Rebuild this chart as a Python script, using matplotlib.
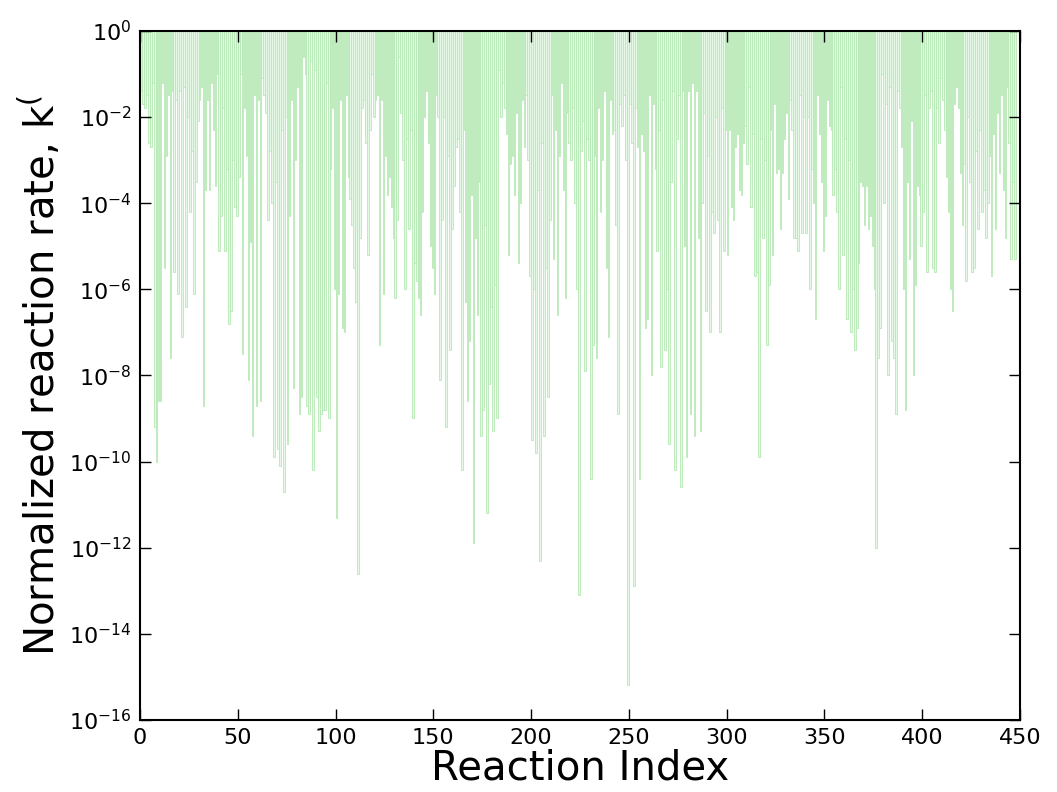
import matplotlib
matplotlib.use("Agg")
import matplotlib.pyplot as plt
import numpy as np
from matplotlib.ticker import FixedLocator, NullLocator, LogFormatterSciNotation

# log10 of the normalized reaction rate, one entry per reaction
log_k = [
    -1.4, -1.7, -1.8, -1.5, -2.6, -2.7, -1.2, -9.2, -10.0, -8.6,
    -8.6, -1.2, -5.5, -2.9, -1.5, -7.6, -1.4, -5.6, -1.6, -6.1,
    -1.4, -7.1, -1.3, -6.4, -2.0, -4.2, -2.8, -6.1, -3.5, -2.1,
    -1.6, -1.3, -8.7, -3.7, -1.6, -3.7, -1.2, -2.3, -3.6, -1.0,
    -5.1, -4.3, -1.8, -5.1, -3.2, -6.8, -6.5, -3.0, -4.1, -4.3,
    -3.4, -1.0, -7.5, -1.8, -2.9, -8.1, -4.9, -9.4, -1.5, -8.7,
    -1.6, -8.6, -1.1, -1.5, -1.9, -4.4, -2.8, -4.0, -9.9, -3.5,
    -9.7, -10.1, -2.3, -10.7, -2.0, -9.6, -4.3, -1.6, -8.3, -3.0,
    -1.3, -8.9, -8.5, -0.6, -1.0, -8.7, -8.9, -0.7, -10.2, -0.9,
    -8.5, -9.3, -8.9, -8.8, -8.8, -1.2, -9.0, -3.2, -1.8, -6.0,
    -11.3, -6.1, -1.6, -6.9, -7.0, -1.5, -3.4, -3.9, -4.5, -5.5,
    -6.3, -12.6, -4.8, -1.8, -1.6, -2.6, -5.2, -2.3, -1.0, -2.0,
    -1.6, -1.5, -7.3, -1.6, -6.1, -2.9, -3.8, -3.4, -4.1, -4.8,
    -6.2, -4.4, -0.6, -1.9, -3.0, -6.0, -2.5, -4.6, -2.3, -9.0,
    -5.4, -5.8, -6.2, -6.6, -4.2, -2.0, -1.4, -2.6, -5.0, -5.5,
    -6.1, -1.5, -2.0, -8.1, -4.4, -2.0, -9.2, -2.9, -7.4, -4.6,
    -3.6, -2.7, -2.5, -4.2, -10.2, -2.3, -6.3, -8.6, -7.2, -3.8,
    -11.9, -4.8, -6.6, -3.5, -9.4, -8.8, -4.5, -11.2, -8.2, -6.4,
    -9.3, -5.9, -9.0, -0.9, -2.0, -1.2, -1.8, -2.4, -5.2, -3.1,
    -2.9, -3.8, -1.9, -5.4, -4.0, -1.6, -2.7, -1.5, -3.0, -5.7,
    -9.5, -6.0, -9.8, -3.7, -12.3, -2.6, -9.4, -5.5, -8.5, -4.4,
    -1.5, -5.3, -2.3, -6.6, -2.9, -1.2, -3.7, -6.2, -1.9, -2.6,
    -3.0, -1.8, -4.0, -6.0, -13.1, -2.8, -2.1, -7.9, -2.5, -3.0,
    -10.4, -7.3, -2.9, -7.6, -1.8, -4.2, -3.0, -1.4, -5.5, -7.1,
    -1.6, -2.4, -2.3, -4.5, -8.9, -1.7, -2.2, -1.5, -3.0, -15.2,
    -1.7, -2.6, -12.9, -1.8, -2.7, -10.4, -2.4, -2.8, -6.9, -6.7,
    -1.5, -8.0, -1.7, -3.2, -5.1, -2.3, -7.8, -1.6, -7.4, -6.0,
    -9.6, -3.5, -1.4, -10.2, -2.5, -1.5, -10.6, -1.4, -5.0, -9.9,
    -1.4, -8.9, -1.2, -9.4, -1.4, -4.8, -9.3, -4.0, -1.9, -6.5,
    -2.9, -7.0, -4.2, -4.7, -2.0, -4.4, -7.0, -1.8, -5.1, -2.3,
    -5.2, -2.3, -4.1, -4.4, -2.7, -2.4, -3.7, -3.8, -2.6, -2.2,
    -3.1, -1.3, -4.1, -2.4, -5.7, -5.6, -9.9, -2.5, -4.8, -3.0,
    -7.3, -5.9, -2.3, -5.2, -1.7, -3.3, -3.2, -4.6, -3.3, -2.5,
    -1.9, -3.9, -1.6, -2.3, -4.8, -4.8, -5.1, -1.5, -4.7, -2.0,
    -4.7, -2.0, -6.0, -3.2, -4.0, -6.7, -1.5, -2.4, -3.5, -5.1,
    -4.3, -1.6, -2.2, -2.3, -3.8, -3.2, -4.2, -6.0, -1.3, -5.2,
    -2.5, -6.7, -3.0, -7.0, -6.0, -7.4, -6.9, -5.4, -3.5, -3.6,
    -4.5, -3.6, -4.6, -4.3, -5.0, -6.0, -12.0, -7.6, -6.9, -1.0,
    -4.0, -1.7, -8.0, -1.3, -7.2, -7.6, -8.9, -1.4, -1.8, -2.7,
    -6.0, -8.8, -3.5, -5.3, -2.1, -8.0, -5.9, -3.6, -3.8, -5.0,
    -4.2, -1.5, -5.6, -1.8, -1.4, -5.5, -5.6, -1.8, -2.6, -1.1,
    -1.6, -2.3, -3.4, -4.2, -6.0, -6.5, -1.7, -1.3, -1.8, -3.3,
    -4.5, -3.1, -5.8, -2.0, -3.5, -5.6, -5.5, -2.8, -4.6, -2.3,
    -4.2, -3.7, -4.8, -4.0, -2.9, -5.7, -2.4, -4.6, -1.9, -3.3,
    -1.5, -3.7, -4.8, -1.3, -2.6, -5.3, -3.5, -5.3,
]

x_ticks = [0, 50, 100, 150, 200, 250, 300, 350, 400, 450]
y_tick_exps = [0, -2, -4, -6, -8, -10, -12, -14, -16]

k = 10.0 ** np.array(log_k)
idx = np.arange(len(k))

fig = plt.figure(figsize=(10.57, 7.92), dpi=100)
ax = fig.add_axes([0.1325, 0.091, 0.8325, 0.870])

# bars hang from the top (k = 1) down to each rate
ax.bar(idx + 0.1, 1.0 - k, bottom=k, width=0.8, facecolor="#e6f8e6",
       edgecolor="#b6e9b6", linewidth=0.6, align="edge")

ax.set_yscale("log")
ax.set_ylim(1e-16, 1e0)
ax.set_xlim(0, 450)

ax.yaxis.set_major_locator(FixedLocator([10.0 ** e for e in y_tick_exps]))
ax.yaxis.set_minor_locator(NullLocator())
ax.yaxis.set_major_formatter(LogFormatterSciNotation())
ax.set_xticks(x_ticks)

ax.tick_params(direction="in", top=True, right=True, length=8, width=1,
               labelsize=16, pad=6)
for s in ax.spines.values():
    s.set_linewidth(1.5)

ax.set_xlabel("Reaction Index", fontsize=29, labelpad=0)
ax.set_ylabel(r"Normalized reaction rate, k$^{(}$", fontsize=29, labelpad=4)

plt.savefig("out.png", dpi=100)
plt.close(fig)
